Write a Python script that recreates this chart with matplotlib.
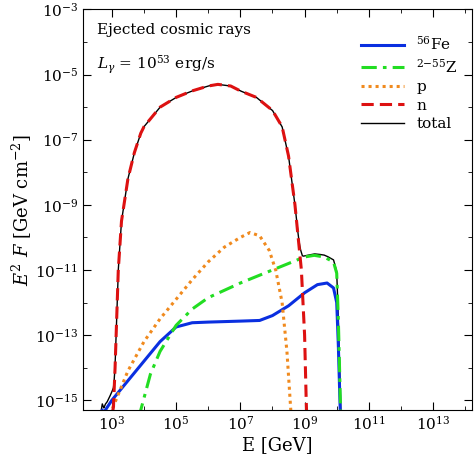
import numpy as np
import matplotlib
matplotlib.use("Agg")
import matplotlib.pyplot as plt

plt.rcParams['font.family'] = ['DejaVu Serif']
plt.rcParams['mathtext.fontset'] = 'dejavuserif'

# log10(E/GeV), log10(E^2 F)
fe_x = [2.5, 2.6, 2.65, 2.7, 2.75, 2.8, 3.0, 3.5, 4.0, 4.5, 5.0, 5.5, 6.0, 7.0, 7.6, 8.0, 8.5, 9.0, 9.4, 9.7, 9.9, 10.0, 10.05, 10.1, 10.15]
fe_y = [-15.7, -15.4, -15.6, -15.3, -15.5, -15.3, -15.0, -14.4, -13.8, -13.2, -12.75, -12.62, -12.6, -12.57, -12.55, -12.4, -12.1, -11.7, -11.45, -11.4, -11.55, -12.0, -13.3, -15.0, -16.5]
z_x = [3.7, 3.9, 4.2, 4.5, 5.0, 5.5, 6.0, 7.0, 8.0, 8.5, 9.0, 9.3, 9.6, 9.9, 10.0, 10.05, 10.1, 10.15]
z_y = [-16.5, -15.3, -14.2, -13.5, -12.7, -12.2, -11.85, -11.4, -11.0, -10.8, -10.6, -10.55, -10.6, -10.75, -11.1, -12.5, -14.5, -16.5]
p_x = [2.7, 3.0, 3.5, 4.0, 4.5, 5.0, 5.5, 6.0, 6.5, 7.0, 7.3, 7.6, 7.9, 8.1, 8.3, 8.45, 8.55, 8.65]
p_y = [-16.5, -15.3, -14.1, -13.2, -12.5, -11.9, -11.3, -10.75, -10.3, -10.0, -9.85, -9.95, -10.4, -11.0, -12.0, -13.5, -15.0, -16.5]
n_x = [2.55, 2.7, 2.85, 3.0, 3.05, 3.1, 3.15, 3.2, 3.3, 3.5, 3.7, 3.9, 4.0, 4.5, 5.0, 5.5, 6.0, 6.3, 6.7, 7.0, 7.5, 8.0, 8.3, 8.5, 8.7, 8.9, 9.0, 9.05, 9.1]
n_y = [-16.5, -15.6, -15.8, -15.5, -15.2, -14.0, -12.5, -11.0, -9.5, -8.2, -7.4, -6.8, -6.6, -6.0, -5.7, -5.5, -5.35, -5.3, -5.35, -5.5, -5.7, -6.1, -6.6, -7.5, -9.0, -11.0, -13.0, -15.0, -16.5]

fig = plt.figure(figsize=(4.74, 4.74), dpi=100)
ax = fig.add_axes([0.175, 0.135, 0.82, 0.845])

def curve(x, y):
    return 10**np.array(x, float), 10**np.array(y, float)

grid = np.linspace(2.5, 10.2, 800)
tot = np.zeros_like(grid)
for x, y in [(fe_x, fe_y), (z_x, z_y), (p_x, p_y), (n_x, n_y)]:
    v = np.interp(grid, x, y, left=-30, right=-30)
    tot += 10**v

ax.plot(*curve(fe_x, fe_y), color='#0a2fe0', lw=2.2, label=r'$^{56}$Fe')
ax.plot(*curve(z_x, z_y), color='#22dd22', lw=2.2, ls=(0, (5, 2, 1.2, 2)), label=r'$^{2\mathrm{-}55}$Z')
ax.plot(*curve(p_x, p_y), color='#f08a1e', lw=2.2, ls=(0, (1, 1.3)), label='p')
ax.plot(*curve(n_x, n_y), color='#dd1111', lw=2.2, ls=(0, (4, 2)), label='n')
ax.plot(10**grid, tot, color='black', lw=1.0, label='total', zorder=1)

ax.set_xscale('log'); ax.set_yscale('log')
ax.set_xlim(10**2.1, 10**14.2)
ax.set_ylim(10**-15.3, 1e-3)
ax.set_xticks([1e3, 1e5, 1e7, 1e9, 1e11, 1e13])
ax.set_yticks([10.0**k for k in range(-15, -2, 2)])
ax.tick_params(which='both', direction='in', top=True, right=True, labelsize=11)
ax.tick_params(which='major', length=6)
ax.tick_params(which='minor', length=3)
ax.yaxis.set_minor_locator(matplotlib.ticker.LogLocator(base=10, subs=[1.0], numticks=30))
ax.xaxis.set_minor_locator(matplotlib.ticker.LogLocator(base=10, subs=[1.0], numticks=30))
ax.yaxis.set_minor_formatter(matplotlib.ticker.NullFormatter())
ax.xaxis.set_minor_formatter(matplotlib.ticker.NullFormatter())
ax.set_xlabel('E [GeV]', fontsize=13, labelpad=2)
ax.set_ylabel(r'$E^2\ F$ [GeV cm$^{-2}$]', fontsize=13, labelpad=1)
ax.text(0.035, 0.965, 'Ejected cosmic rays', transform=ax.transAxes, fontsize=11, va='top')
ax.text(0.035, 0.89, r'$L_\gamma$ = 10$^{53}$ erg/s', transform=ax.transAxes, fontsize=11, va='top')
ax.legend(loc='upper right', bbox_to_anchor=(1.0, 0.97), frameon=False, fontsize=11, handlelength=2.8, labelspacing=0.3)
fig.savefig('out.png', dpi=100)
